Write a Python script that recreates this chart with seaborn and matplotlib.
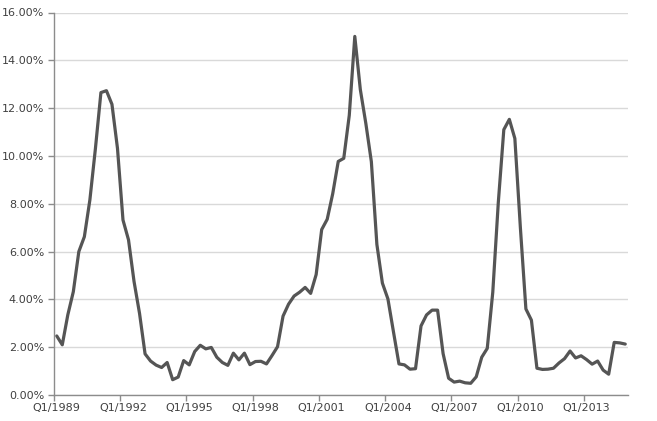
import matplotlib
matplotlib.use("Agg")
import matplotlib.pyplot as plt
import seaborn as sns
import pandas as pd
import numpy as np
from matplotlib.ticker import FixedLocator, FuncFormatter

# ---- data ----
quarters = [f"Q{q}/{y}" for y in range(1989, 2015) for q in range(1, 5)]
values = [
    2.47, 2.10, 3.35, 4.32, 6.00, 6.62, 8.16, 10.30, 12.65, 12.73,
    12.16, 10.32, 7.32, 6.49, 4.75, 3.41, 1.72, 1.42, 1.25, 1.15,
    1.36, 0.64, 0.75, 1.44, 1.26, 1.82, 2.08, 1.93, 1.99, 1.58,
    1.36, 1.24, 1.75, 1.47, 1.75, 1.27, 1.40, 1.41, 1.30, 1.65,
    2.02, 3.30, 3.80, 4.14, 4.30, 4.50, 4.25, 5.04, 6.92, 7.35,
    8.42, 9.77, 9.90, 11.70, 15.00, 12.78, 11.36, 9.76, 6.30, 4.68,
    4.02, 2.65, 1.30, 1.26, 1.08, 1.10, 2.89, 3.35, 3.55, 3.55,
    1.73, 0.70, 0.54, 0.58, 0.51, 0.49, 0.76, 1.58, 1.95, 4.30,
    8.05, 11.10, 11.53, 10.73, 7.00, 3.60, 3.13, 1.12, 1.07, 1.08,
    1.12, 1.34, 1.52, 1.84, 1.55, 1.64, 1.48, 1.29, 1.42, 1.04,
    0.87, 2.20, 2.18, 2.13,
]
tick_labels = ["Q1/1989", "Q1/1992", "Q1/1995", "Q1/1998", "Q1/2001",
               "Q1/2004", "Q1/2007", "Q1/2010", "Q1/2013"]
y_ticks = [0, 2, 4, 6, 8, 10, 12, 14, 16]

df = pd.DataFrame({"quarter": quarters[:len(values)], "value": values})

# ---- style ----
sns.set_theme(style="white")
plt.rcParams["font.family"] = ["DejaVu Sans"]
text_color = "#404040"
axis_color = "#8c8c8c"

fig = plt.figure(figsize=(6.57, 4.21), dpi=100)
ax = fig.add_axes([54 / 657, 1 - 395 / 421, (628 - 54) / 657, (395 - 12.5) / 421])

sns.lineplot(data=df, x="quarter", y="value", ax=ax, color="#555555",
             linewidth=2.3, sort=False)

n = len(values)
ax.set_xlim(-0.5, n - 0.5)
ax.set_ylim(0, 16)

# y axis
ax.set_yticks(y_ticks)
ax.yaxis.set_major_formatter(FuncFormatter(lambda v, p: f"{v:.2f}%"))
ax.grid(axis="y", color="#d9d9d9", linewidth=1)
ax.set_axisbelow(True)

# x axis: labels at category centres, ticks at category boundaries
label_pos = [quarters.index(t) for t in tick_labels]
ax.xaxis.set_major_locator(FixedLocator([p - 0.5 for p in label_pos]))
ax.xaxis.set_major_formatter(FuncFormatter(lambda v, p: ""))
ax.xaxis.set_minor_locator(FixedLocator(label_pos))
ax.set_xticklabels(tick_labels, minor=True)

ax.tick_params(axis="x", which="major", length=4, width=1, color=axis_color,
               direction="out", bottom=True)
ax.tick_params(axis="x", which="minor", length=0, labelsize=8,
               labelcolor=text_color, pad=6, bottom=True)
ax.tick_params(axis="y", which="major", length=4, width=1, color=axis_color,
               direction="out", left=True, labelsize=8, labelcolor=text_color,
               pad=3)

for s in ["top", "right"]:
    ax.spines[s].set_visible(False)
for s in ["left", "bottom"]:
    ax.spines[s].set_color(axis_color)
    ax.spines[s].set_linewidth(1)

ax.set_xlabel("")
ax.set_ylabel("")

fig.savefig("out.png", dpi=100, facecolor="white")
